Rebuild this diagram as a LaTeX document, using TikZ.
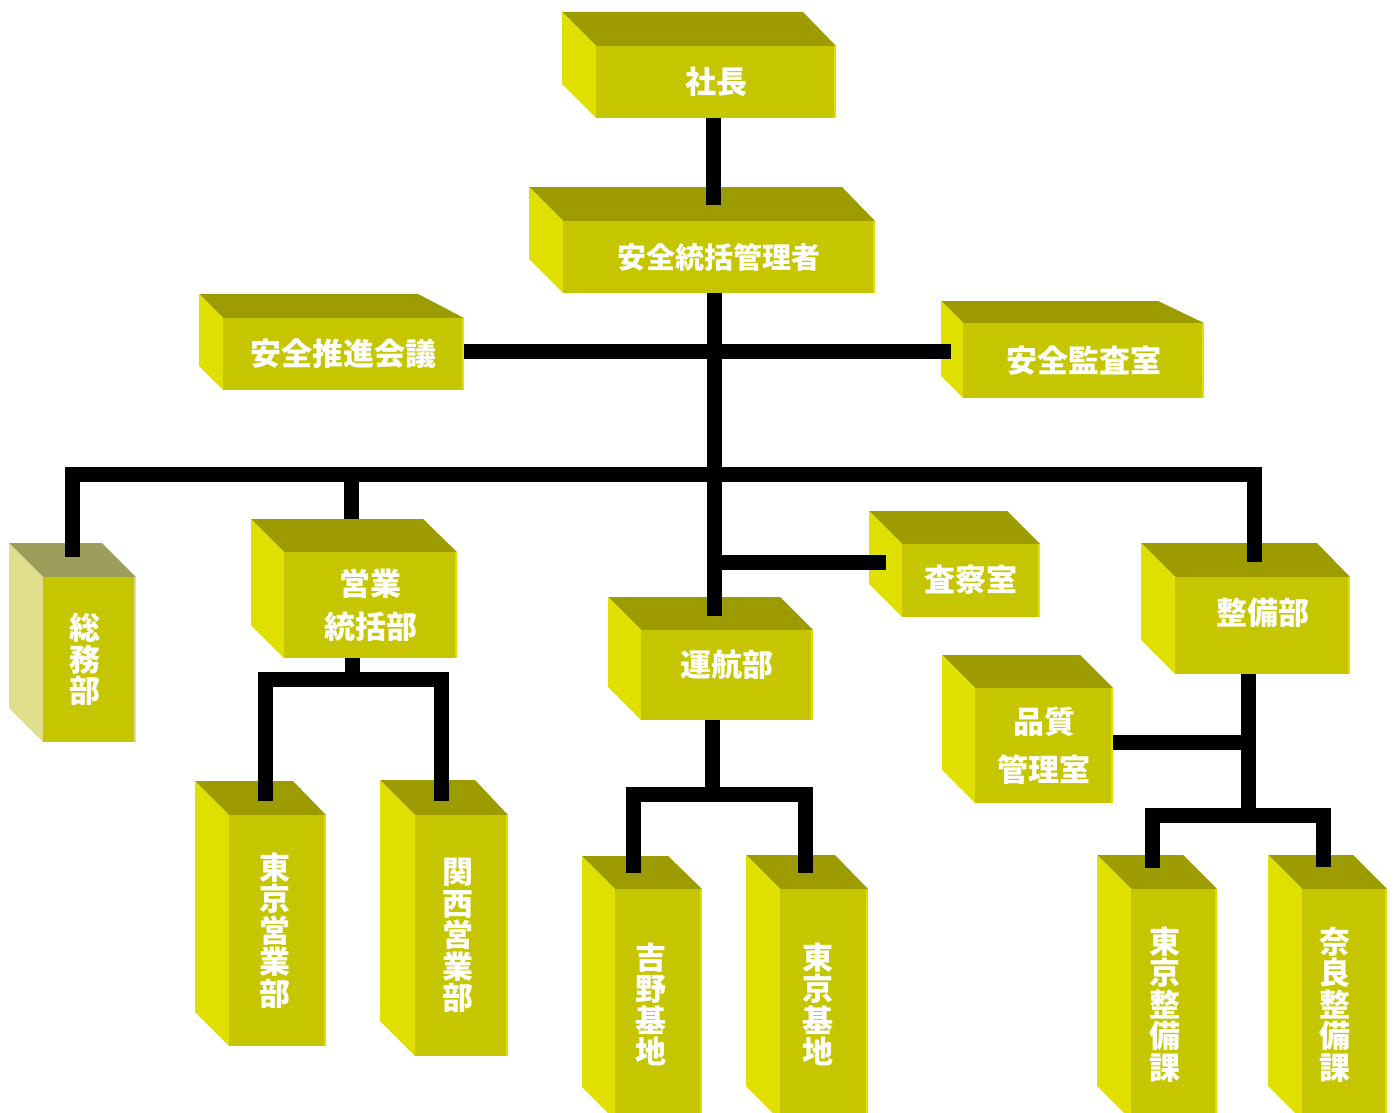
\documentclass[tikz,border=0pt]{standalone}
\usepackage{fontspec}
\newfontfamily\jpfont{Noto Sans CJK JP}
\usepackage{tikz}
\usetikzlibrary{calc}

\definecolor{boxtop}{HTML}{9C9C00}
\definecolor{boxside}{HTML}{E0E000}
\definecolor{boxfront}{HTML}{C6C600}
\definecolor{greytop}{HTML}{9E9E5C}
\definecolor{greyside}{HTML}{E0E08C}

\tikzset{
  topface/.style={fill=boxtop},
  sideface/.style={fill=boxside},
  boxface/.style={fill=boxfront, inner sep=0pt, outer sep=0pt},
  boxtext/.style={text=white, align=center, inner sep=0pt,
    font=\jpfont\bfseries\fontsize{31}{31.5}\selectfont},
  labelshift/.style={},
  conn/.style={line width=15pt, black},
}

% [options]{name}{x1}{y1}{x2}{y2}{depth}{back right x}{text}
\newcommand{\orgbox}[9][]{%
  \begin{scope}[#1]
    \fill[topface] (#3-#7,#4-#7) -- (#8,#4-#7) -- (#5,#4) -- (#3,#4) -- cycle;
    \fill[sideface] (#3-#7,#4-#7) -- (#3,#4) -- (#3,#6) -- (#3-#7,#6-#7) -- cycle;
    \node[boxface, minimum width={#5-#3}, minimum height={#6-#4}] (#2) at ({(#3+#5)/2},{(#4+#6)/2}) {};
    \fill[sideface] (#5-2.5,#4) rectangle (#5,#6);
    \node[boxtext, labelshift] at (#2.center) {#9};
  \end{scope}}

\begin{document}
\begin{tikzpicture}[x=1pt, y=-1pt]
    \useasboundingbox (0,0) rectangle (1395,1113);
    \clip (0,0) rectangle (1395,1113);

    % Top
    \orgbox{shacho}{596}{46}{836}{118}{34}{803}{社長}
    \orgbox{kanri}{563}{221}{875}{293}{34}{842}{\fontsize{29}{31}\selectfont 安全統括管理者}
    \orgbox{suishin}{223}{318}{464}{390}{24}{418}{安全推進会議}
    \orgbox{kansa}{963}{323}{1204}{398}{22}{1158}{安全監査室}

    % Departments
    \orgbox[topface/.style={fill=greytop}, sideface/.style={fill=greyside}, labelshift/.style={xshift=-5pt}]{somu}{43}{577}{136}{742}{34}{102}{総\\務\\部}
    \orgbox{eigyo}{284}{552}{457}{658}{33}{423}{営業\\[11pt]統括部}
    \orgbox[labelshift/.style={yshift=10pt}]{unko}{641}{630}{813}{720}{33}{780}{運航部}
    \orgbox[labelshift/.style={yshift=1pt}]{sasatsu}{902}{544}{1040}{617}{33}{1007}{査察室}
    \orgbox[labelshift/.style={yshift=13pt}]{seibi}{1175}{577}{1350}{674}{34}{1317}{整備部}
    \orgbox{hinshitsu}{975}{688}{1113}{803}{33}{1080}{品質\\[16pt]管理室}

    % Sections
    \orgbox[labelshift/.style={xshift=-3pt}]{tokyoeigyo}{229}{815}{326}{1046}{34}{293}{東\\京\\営\\業\\部}
    \orgbox[labelshift/.style={xshift=-4pt}]{kansai}{415}{815}{508}{1056}{35}{475}{関\\西\\営\\業\\部}
    \orgbox[labelshift/.style={xshift=-8pt}]{yoshino}{615}{889}{702}{1120}{33}{668}{吉\\野\\基\\地}
    \orgbox[labelshift/.style={xshift=-6pt}]{tokyokichi}{780}{889}{868}{1120}{34}{835}{東\\京\\基\\地}
    \orgbox[labelshift/.style={xshift=-9pt}]{tokyoseibi}{1131}{889}{1217}{1120}{34}{1183}{東\\京\\整\\備\\課}
    \orgbox[labelshift/.style={xshift=-10pt}]{nara}{1302}{889}{1387}{1120}{34}{1353}{奈\\良\\整\\備\\課}

    % Junctions
    \coordinate (c0) at (713,205);
    \coordinate (c1) at (714,616);
    \coordinate (c2) at (951,351);
    \coordinate (bus) at (714,474);
    \coordinate (b1) at (72,557);
    \coordinate (b2) at (351,519);
    \coordinate (b3) at (1254,562);
    \coordinate (c3) at (886,562);
    \coordinate (e0) at (352,679);
    \coordinate (e1) at (265,801);
    \coordinate (e2) at (441,801);
    \coordinate (u0) at (712,794);
    \coordinate (u1) at (633,873);
    \coordinate (u2) at (805,873);
    \coordinate (s0) at (1248,815);
    \coordinate (s1) at (1152,868);
    \coordinate (s2) at (1323,867);
    \coordinate (s3) at (1248,742);

    % Lines
    \draw[conn] (shacho.south -| c0) -- (c0);
    \draw[conn] (kanri.south -| c1) -- (c1);
    \draw[conn] (suishin.east |- c2) -- (c2);
    \draw[conn] (b1) |- (bus) -| (b3);
    \draw[conn] (b2) -- (b2 |- bus);
    \draw[conn] (c3) -- (c3 -| bus);
    \draw[conn] (eigyo.south -| e0) -- (e0);
    \draw[conn] (e1) |- (e0) -| (e2);
    \draw[conn] (unko.south -| u0) -- (u0);
    \draw[conn] (u1) |- (u0) -| (u2);
    \draw[conn] (seibi.south -| s0) -- (s0);
    \draw[conn] (s1) |- (s0) -| (s2);
    \draw[conn] (hinshitsu.east |- s3) -- (s3);
\end{tikzpicture}
\end{document}
